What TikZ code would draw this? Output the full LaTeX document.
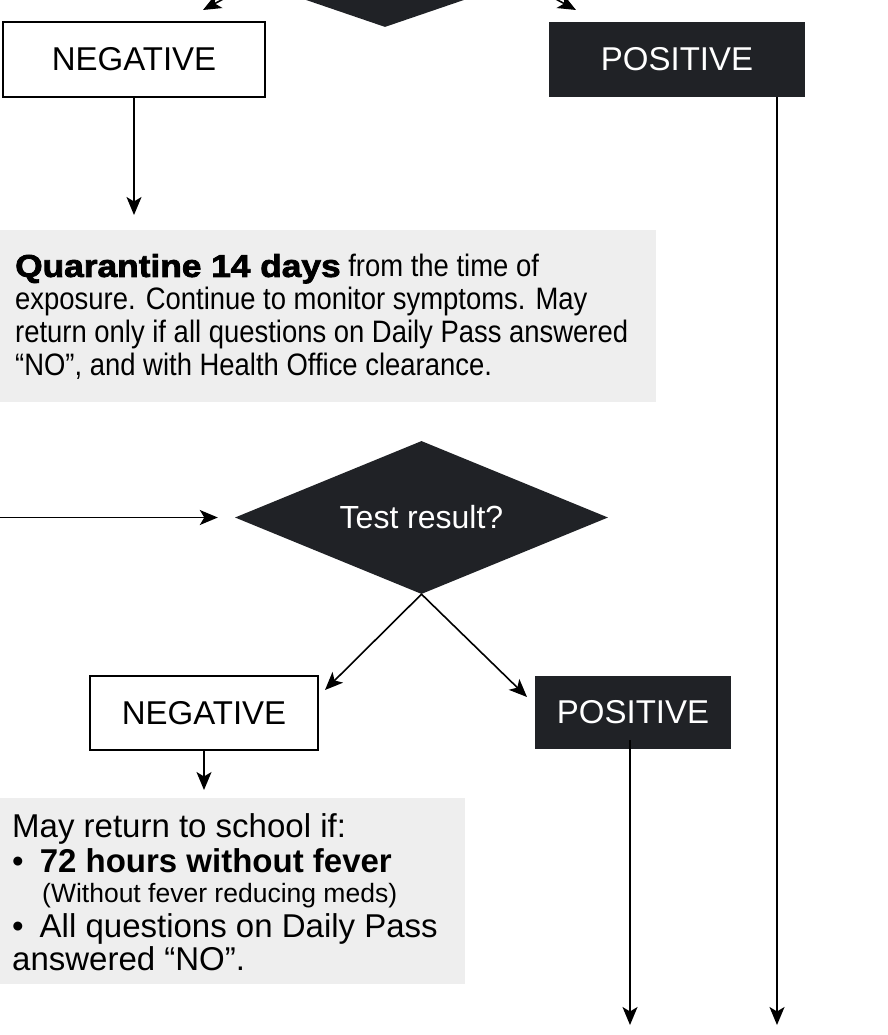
\documentclass[tikz,border=0pt]{standalone}
\usepackage{fontspec}
\setmainfont{Liberation Sans}
\newfontfamily\condfont[FakeStretch=0.885]{Liberation Sans}
\newfontfamily\heavyfont[FakeStretch=1.12,FakeBold=2.5]{Liberation Sans Bold}
\usetikzlibrary{shapes.geometric,arrows.meta}
\definecolor{darkbox}{HTML}{202226}
\definecolor{palebox}{HTML}{EEEEEE}
\begin{document}
\begin{tikzpicture}[x=1pt,y=-1pt,
  conn/.style={line width=1.6pt,black},
  arr/.style={conn,-{Stealth[length=18pt,width=15pt,inset=4.5pt]}},
  whitebox/.style={draw=black,line width=1.4pt,fill=white,inner sep=0pt,
     font=\fontsize{33}{38}\selectfont},
  darkrect/.style={fill=darkbox,text=white,inner sep=0pt,
     font=\fontsize{33}{38}\selectfont},
  decision/.style={diamond,fill=darkbox,inner sep=0pt},
  decisiontext/.style={text=white,font=\fontsize{32}{36}\selectfont},
  notebox/.style={fill=palebox,inner sep=0pt,anchor=north west}
]
\useasboundingbox (0,0) rectangle (887,1035);

% top (partially visible) decision
\node[decision,minimum width=480pt,minimum height=164pt] (dtop) at (385,-55) {};
\coordinate (tl0) at (262,-22);
\coordinate (tl1) at (203,10);
\coordinate (tr0) at (517,-22);
\coordinate (tr1) at (576,10);
\draw[arr] (tl0) -- (tl1);
\draw[arr] (tr0) -- (tr1);

\node[whitebox,minimum width=262pt,minimum height=75pt] (neg1) at (134,59.5) {NEGATIVE};
\node[darkrect,minimum width=256pt,minimum height=75pt] (pos1) at (677,59.5) {POSITIVE};

% quarantine note
\node[notebox,minimum width=656pt,minimum height=172pt] (q1) at (0,230) {};
\node[anchor=base west,inner sep=0pt,align=left,
      font=\condfont\fontsize{31}{32.7}\selectfont] (q1t) at (15,375)
  {{\heavyfont\fontsize{31.5}{32.7}\selectfont Quarantine 14 days} from the time of\\
   exposure. Continue to monitor symptoms. May\\
   return only if all questions on Daily Pass answered\\
   “NO”, and with Health Office clearance.};

\coordinate (a1) at (134,215);
\draw[arr] (neg1.south) -- (a1);

% test result
\node[decision,minimum width=373pt,minimum height=153pt,
      label={[decisiontext]center:Test result?}] (d2) at (421.5,517.5) {};
\coordinate (in2) at (0,517.5);
\draw[arr,shorten >=17pt] (in2) -- (d2.west);

\node[whitebox,minimum width=228pt,minimum height=74pt] (neg2) at (204,713) {NEGATIVE};
\node[darkrect,minimum width=196pt,minimum height=73pt] (pos2) at (633,712.5) {POSITIVE};

\coordinate (n2tip) at (325,690);
\coordinate (p2tip) at (527,697);
\draw[arr] (d2.south) -- (n2tip);
\draw[arr] (d2.south) -- (p2tip);

% return note
\node[notebox,minimum width=465pt,minimum height=186pt] (g2) at (0,798) {};
\node[anchor=base west,inner sep=0pt,align=left,
      font=\fontsize{33}{33}\selectfont] (g2t) at (12,970)
  {May return to school if:\\[2pt]
   •\hspace{16pt}\textbf{72 hours without fever}\\[-3pt]
   \hspace*{30pt}{\fontsize{26.5}{30}\selectfont(Without fever reducing meds)}\\[2pt]
   •\hspace{16pt}All questions on Daily Pass\\
   answered “NO”.};

\coordinate (a2) at (204,790);
\draw[arr] (neg2.south) -- (a2);

% long vertical exits
\coordinate (r1) at (777,1025);
\draw[arr] (pos1.south -| r1) -- (r1);
\coordinate (p2s) at (630,740);
\coordinate (r2) at (630,1025);
\draw[arr] (p2s) -- (r2);
\end{tikzpicture}
\end{document}
